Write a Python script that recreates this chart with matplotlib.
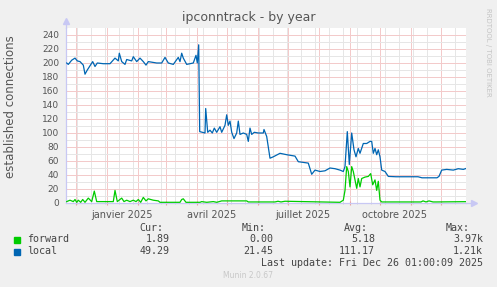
import numpy as np
import matplotlib
matplotlib.use('Agg')
import matplotlib.pyplot as plt
import matplotlib.dates as mdates
from matplotlib.patches import Rectangle

# --- data (days since graph start, value) ---
start = np.datetime64('2024-11-21T01:00')
end = np.datetime64('2025-12-26T01:00')

forward_days = [0.7, 4, 7.3, 9, 10.7, 12.3, 14.7, 16.7, 19, 22.3, 25.7, 28.3, 30.7,
                37.3, 47.3, 49, 51.3, 55.7, 58, 60.7, 64, 67.3, 70, 72.3, 74.7, 77.3,
                80, 82.3, 84.7, 87.3, 92.3, 94, 114, 115.7, 117.3, 120, 134, 135.7,
                140.7, 147.3, 150.7, 155.7, 180.7, 182.3, 209, 212, 215, 219, 274,
                277.3, 279, 280.7, 282.3, 284, 285.7, 287.3, 289, 290.7, 292.3, 294,
                295.7, 299, 302.3, 304.7, 306.7, 309, 310.7, 312.3, 314, 315.7, 355,
                357, 360, 363, 367, 370, 400]
forward_vals = [2, 4, 2, 5, 1, 4, 1, 5, 1, 7, 2, 17, 2,
                2, 2, 18, 2, 7, 2, 4, 2, 4, 2, 5, 1, 8,
                3, 6, 5, 4, 3, 1, 1, 5, 6, 1, 1, 2,
                1, 2, 1, 3, 3, 1.5, 1.5, 2.5, 1.5, 2.5, 1,
                4, 18, 52, 45, 23, 52, 45, 33, 21, 35, 23,
                35, 37, 38, 42, 26, 33, 18, 31, 4, 1.5, 1.5,
                3, 1.5, 3, 1.5, 1.5, 1.9]

local_days = [0.7, 2.3, 5.7, 9, 11.3, 14, 17.3, 19, 21.3, 24, 26.7, 29, 31.3, 37.3,
              44, 49, 52.3, 53.3, 55.7, 59, 60.7, 65.7, 67.3, 70.7, 74, 77.3, 80,
              82.3, 90.7, 95.7, 99, 102.3, 107.3, 112.3, 114, 115.7, 117.3, 120.7,
              127.3, 130, 131.3, 132.7, 133.7, 139, 139.7, 141.7, 144, 146.3, 148.3,
              150.7, 154, 155.7, 159, 160.7, 162.3, 164, 165.7, 168, 170.7, 172.3,
              174, 177.3, 180.7, 182.3, 184, 185.7, 188.3, 192.3, 197.3, 198, 200.7,
              204, 207.3, 214, 220.7, 229, 232.3, 237.3, 242.3, 245.7, 249, 254, 259,
              264, 269, 274, 277.3, 279, 281.3, 283.3, 285.7, 288, 290, 292.3, 294,
              297.3, 300.7, 304, 305.7, 307.3, 309, 310.7, 312.3, 314, 315.7, 319,
              322.3, 330, 340, 352, 356, 362, 368, 371, 373, 375.7, 380.7, 387.3,
              392.3, 397.3, 400]
local_vals = [200, 198, 204, 207, 203, 202, 197, 184, 190, 196, 202, 195, 200, 199,
              199, 207, 203, 214, 202, 198, 205, 203, 209, 202, 207, 202, 197,
              202, 200, 200, 208, 200, 198, 208, 202, 214, 207, 198,
              200, 211, 200, 226, 102, 100, 135, 101, 104, 100, 107,
              101, 109, 101, 111, 126, 111, 117, 101, 92, 100, 117,
              98, 100, 98, 88, 107, 98, 101, 100, 100, 105, 95,
              64, 66, 71, 69, 67, 59, 58, 57, 41, 47, 45, 46,
              50, 49, 47, 45, 52, 102, 55, 100, 76, 66, 78, 71,
              85, 85, 88, 88, 71, 78, 69, 76, 66, 47, 45,
              38, 37.5, 37.5, 37.5, 36, 36, 36, 36, 38, 47, 48, 47,
              49, 48, 49.3]

month_labels = ['janvier 2025', 'avril 2025', 'juillet 2025', 'octobre 2025']
label_dates = ['2025-01-16', '2025-04-16', '2025-07-16', '2025-10-16']

legend_names = ['forward', 'local']
cur = ['1.89', '49.29']
mins = ['0.00', '21.45']
avgs = ['5.18', '111.17']
maxs = ['3.97k', '1.21k']
colors = ['#00cc00', '#0066b3']


def to_dates(days):
    return start + (np.array(days) * 24 * 60).astype('timedelta64[m]')


W, H = 497, 287
fig = plt.figure(figsize=(W / 100, H / 100), dpi=100, facecolor='#f0f0f0')
ax = fig.add_axes([66 / W, (H - 203) / H, 400 / W, 175 / H])
ax.set_facecolor('white')

ax.plot(to_dates(forward_days), forward_vals, color=colors[0], lw=0.9, zorder=3)
ax.plot(to_dates(local_days), local_vals, color=colors[1], lw=0.9, zorder=3)

ax.set_xlim(start, end)
ax.set_ylim(0, 250)

# grid like rrdtool: grey minor, pale red major (dotted lines, drawn
# as their averaged tint since 1px dots don't survive rasterizing)
ax.xaxis.set_major_locator(mdates.MonthLocator())
minor_x = np.arange(np.datetime64('2024-12-02'), np.datetime64('2025-12-27'),
                    np.timedelta64(14, 'D'))
ax.xaxis.set_minor_locator(matplotlib.ticker.FixedLocator(mdates.date2num(minor_x)))
ax.xaxis.set_major_formatter(matplotlib.ticker.NullFormatter())
ax.set_yticks(np.arange(0, 241, 20))
ax.set_yticks(np.arange(10, 250, 20), minor=True)

ax.grid(which='minor', color='#e6e6e6', lw=0.72, antialiased=False)
ax.grid(which='major', color='#f3caca', lw=0.72, antialiased=False)
ax.set_axisbelow(True)

ax.tick_params(axis='x', which='major', length=3, color='#e8a0a0', direction='inout')
ax.tick_params(axis='x', which='minor', length=2, color='#d0d0d0', direction='inout')
ax.tick_params(axis='y', which='both', length=0, pad=5, labelsize=6.5,
               labelcolor='#555555')

for s in ['top', 'right']:
    ax.spines[s].set_visible(False)
for s in ['left', 'bottom']:
    ax.spines[s].set_color('#c8c8f4')
    ax.spines[s].set_linewidth(0.9)

# axis arrows
axc = '#c8c8f4'
ax.plot([0, 0], [1, 1.035], color=axc, lw=0.9, transform=ax.transAxes, clip_on=False)
ax.plot([0], [1.04], marker='^', ms=4, color=axc, transform=ax.transAxes, clip_on=False)
ax.plot([1, 1.015], [0, 0], color=axc, lw=0.9, transform=ax.transAxes, clip_on=False)
ax.plot([1.02], [0], marker='>', ms=4, color=axc, transform=ax.transAxes, clip_on=False)

# month labels centred mid-month
for lab, d in zip(month_labels, label_dates):
    ax.text(mdates.date2num(np.datetime64(d)), -0.04, lab, transform=ax.get_xaxis_transform(),
            ha='center', va='top', fontsize=7, color='#555555')

fig.text(249 / W, 1 - 17 / H, 'ipconntrack - by year', ha='center', va='center',
         fontsize=9, color='#555555')
fig.text(11 / W, 1 - 107 / H, 'established connections', rotation=90, ha='center',
         va='center', fontsize=8.5, color='#555555')
fig.text(488 / W, 1 - 52 / H, 'RRDTOOL / TOBI OETIKER', rotation=270, ha='center',
         va='center', fontsize=5, color='#c4c4c4')

# legend block
mono = 'DejaVu Sans Mono'
fs = 7.2
tc = '#444444'
for txt, xr in zip(['Cur:', 'Min:', 'Avg:', 'Max:'], [163, 266, 368, 470]):
    fig.text(xr / W, 1 - 228 / H, txt, ha='right', va='center', family=mono,
             fontsize=fs, color=tc)
for i, yp in enumerate([239.5, 251.5]):
    fig.patches.append(Rectangle((14 / W, 1 - (yp + 3) / H), 6 / W, 6 / H,
                                 transform=fig.transFigure, color=colors[i]))
    fig.text(27 / W, 1 - yp / H, legend_names[i], ha='left', va='center', family=mono,
             fontsize=fs, color=tc)
    for val, xr in zip([cur[i], mins[i], avgs[i], maxs[i]], [170, 273, 375, 483]):
        fig.text(xr / W, 1 - yp / H, val, ha='right', va='center', family=mono,
                 fontsize=fs, color=tc)
fig.text(483 / W, 1 - 263 / H, 'Last update: Fri Dec 26 01:00:09 2025', ha='right',
         va='center', family=mono, fontsize=fs, color=tc)
fig.text(248 / W, 1 - 276 / H, 'Munin 2.0.67', ha='center', va='center', fontsize=5.5,
         color='#c8c8c8')

fig.savefig('out.png', dpi=100, facecolor=fig.get_facecolor())
